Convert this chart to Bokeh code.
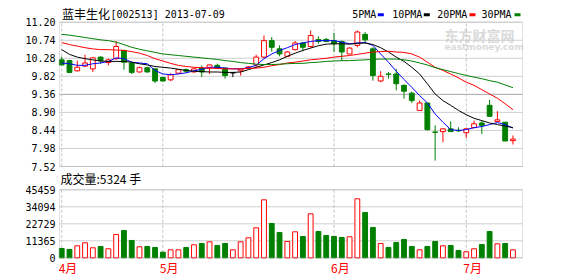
from bokeh.plotting import figure
from bokeh.layouts import column
from bokeh.models import (Range1d, FixedTicker, NumeralTickFormatter, Label,
                          BoxAnnotation, ColumnDataSource)
from bokeh.embed import file_html
from bokeh.resources import INLINE

# ---------------- data ----------------
title_name = "蓝丰生化"
title_code = "[002513] 2013-07-09"
volume_title = "成交量:5324 手"
legend_names = ["5PMA", "10PMA", "20PMA", "30PMA"]
legend_colors = ["#0000FF", "#000000", "#FF0000", "#008000"]
month_labels = ["4月", "5月", "6月", "7月"]
month_starts = [0, 13, 35, 52]
price_ticks = [7.52, 7.98, 8.44, 8.90, 9.36, 9.82, 10.28, 10.74, 11.20]
volume_ticks = [0, 11365, 22729, 34094, 45459]

opens = [10.24, 10.22, 9.96, 10.08, 10.01, 10.31, 10.17, 10.27, 10.48, 10.16,
         9.93, 10.04, 10.01, 9.79, 9.73, 9.90, 9.99, 9.93, 10.03, 10.03,
         10.10, 10.03, 9.91, 9.96, 10.03, 10.11, 10.31, 10.73, 10.52, 10.33,
         10.50, 10.67, 10.58, 10.76, 10.76, 10.73, 10.71, 10.39, 10.61, 10.89,
         10.52, 9.70, 9.88, 9.88, 9.59, 9.39, 8.95, 9.14, 8.40, 8.41,
         8.48, 8.44, 8.38, 8.51, 8.63, 9.08, 8.67, 8.65, 8.18]
closes = [10.11, 9.92, 10.05, 10.16, 10.29, 10.22, 10.24, 10.58, 10.18, 9.92,
          10.04, 9.93, 9.70, 9.70, 9.86, 9.99, 9.95, 10.01, 9.93, 10.11,
          10.03, 9.84, 9.91, 10.01, 10.06, 10.31, 10.73, 10.56, 10.39, 10.44,
          10.67, 10.56, 10.86, 10.71, 10.71, 10.65, 10.44, 10.54, 10.95, 10.75,
          9.84, 9.82, 9.87, 9.63, 9.44, 9.20, 9.14, 8.46, 8.39, 8.48,
          8.41, 8.43, 8.48, 8.61, 8.57, 8.80, 8.71, 8.17, 8.22]
highs = [10.32, 10.24, 10.22, 10.37, 10.31, 10.33, 10.27, 10.72, 10.50, 10.17,
         10.07, 10.05, 10.02, 9.80, 9.90, 9.99, 10.02, 10.03, 10.10, 10.12,
         10.14, 10.04, 9.93, 10.03, 10.08, 10.37, 10.86, 10.82, 10.61, 10.46,
         10.72, 10.69, 10.99, 10.84, 10.80, 10.93, 10.73, 10.56, 10.99, 10.95,
         10.56, 9.95, 9.93, 10.01, 9.61, 9.43, 9.20, 9.14, 8.57, 8.50,
         8.67, 8.52, 8.51, 8.69, 8.69, 9.22, 8.93, 8.65, 8.31]
lows = [10.10, 9.90, 9.94, 10.06, 9.93, 10.14, 10.10, 10.24, 9.99, 9.88,
        9.92, 9.92, 9.65, 9.69, 9.70, 9.89, 9.91, 9.92, 9.80, 9.88,
        10.02, 9.76, 9.80, 9.84, 10.01, 10.05, 10.28, 10.45, 10.33, 10.31,
        10.48, 10.46, 10.55, 10.65, 10.69, 10.44, 10.22, 10.38, 10.56, 10.67,
        9.71, 9.67, 9.76, 9.46, 9.25, 9.14, 8.95, 8.44, 7.67, 8.14,
        8.40, 8.40, 8.25, 8.51, 8.35, 8.78, 8.67, 8.17, 8.08]
volumes = [6240, 5570, 8020, 10030, 6690, 7580, 6020, 15600, 18270, 11590,
           7350, 7580, 6910, 3790, 5350, 5350, 6910, 8690, 9580, 10690,
           8240, 9580, 5350, 10690, 13370, 20050, 38770, 22950, 16930, 10920,
           17380, 14260, 29410, 17600, 14930, 14260, 13590, 14040, 39440, 30300,
           20280, 9580, 6910, 10250, 12250, 7580, 5350, 7580, 10920, 8020,
           8240, 4900, 4010, 6020, 8910, 17600, 9360, 9580, 5324]
ma5 = [10.16, 10.14, 10.10, 10.10, 10.14, 10.16, 10.20, 10.29, 10.27, 10.18,
       10.16, 10.14, 9.97, 9.88, 9.86, 9.88, 9.91, 9.96, 10.00, 10.05,
       10.05, 10.03, 10.01, 10.01, 10.04, 10.10, 10.27, 10.39, 10.48, 10.55,
       10.63, 10.67, 10.71, 10.73, 10.73, 10.73, 10.69, 10.65, 10.67, 10.68,
       10.61, 10.39, 10.18, 9.95, 9.74, 9.54, 9.33, 9.14, 8.86, 8.65,
       8.46, 8.44, 8.46, 8.51, 8.54, 8.59, 8.64, 8.59, 8.50]
ma10 = [10.50, 10.38, 10.31, 10.27, 10.24, 10.21, 10.20, 10.20, 10.20, 10.18,
        10.14, 10.11, 10.07, 10.05, 10.03, 10.00, 9.97, 9.95, 9.94, 9.93,
        9.93, 9.92, 9.92, 9.93, 9.99, 10.05, 10.11, 10.17, 10.24, 10.33,
        10.41, 10.48, 10.54, 10.60, 10.64, 10.65, 10.65, 10.64, 10.66, 10.67,
        10.63, 10.55, 10.44, 10.31, 10.20, 10.05, 9.88, 9.63, 9.37, 9.20,
        9.08, 8.95, 8.84, 8.75, 8.69, 8.63, 8.59, 8.55, 8.51]
ma20 = [10.68, 10.63, 10.59, 10.55, 10.52, 10.50, 10.50, 10.49, 10.48, 10.45,
        10.41, 10.35, 10.27, 10.21, 10.15, 10.10, 10.07, 10.05, 10.04, 10.03,
        10.02, 10.01, 10.01, 10.01, 10.02, 10.03, 10.05, 10.09, 10.12, 10.16,
        10.18, 10.21, 10.24, 10.26, 10.28, 10.31, 10.33, 10.35, 10.38, 10.41,
        10.44, 10.45, 10.46, 10.44, 10.43, 10.39, 10.31, 10.18, 10.05, 9.97,
        9.88, 9.78, 9.67, 9.59, 9.48, 9.37, 9.26, 9.12, 8.97]
ma30 = [10.89, 10.87, 10.84, 10.81, 10.78, 10.75, 10.73, 10.69, 10.63, 10.56,
        10.51, 10.47, 10.43, 10.39, 10.37, 10.35, 10.33, 10.31, 10.29, 10.27,
        10.25, 10.22, 10.20, 10.17, 10.15, 10.13, 10.12, 10.12, 10.13, 10.14,
        10.15, 10.15, 10.17, 10.18, 10.20, 10.21, 10.22, 10.22, 10.23, 10.24,
        10.25, 10.26, 10.26, 10.26, 10.24, 10.21, 10.16, 10.11, 10.04, 9.99,
        9.94, 9.89, 9.84, 9.80, 9.76, 9.71, 9.67, 9.60, 9.53]

# ---------------- layout / style constants (pixels) ----------------
RED = "#FF0000"
GREEN = "#008000"
GRID = "#CFCFCF"
MID_GRID = "#A8A8A8"
DASH_GRID = "#C4C4C4"
FRAME = "#A0A0A0"
MONO = "DejaVu Sans Mono"
CJK = "Noto Sans CJK SC"

W = 578
P_H, V_H = 171, 105            # canvas heights of the two panels
FRAME_L, FRAME_R = 58, 523     # bokeh frame (1px wider than the drawn box)
BOX_L, BOX_R = 59, 522         # drawn box
BAR0_PX, BAR_STEP = 61.2, 7.78
P_TOP_PX, P_BOT_PX = 21.7, 166.0
V_TOP_PX, V_BOT_PX = 189.3 - P_H, 257.3 - P_H


def xd(px):
    return (px - BAR0_PX) / BAR_STEP


SP = (price_ticks[-1] - price_ticks[0]) / (P_BOT_PX - P_TOP_PX)
SV = (volume_ticks[-1] - volume_ticks[0]) / (V_BOT_PX - V_TOP_PX)


def yp(py):
    return price_ticks[-1] - (py - P_TOP_PX) * SP


def yv(py):
    return volume_ticks[-1] - (py - V_TOP_PX) * SV


idx = list(range(len(closes)))
cndl_color, cndl_fill, vol_color, vol_fill = [], [], [], []
for o, c in zip(opens, closes):
    if c > o:
        cndl_color.append(RED); cndl_fill.append("#FFFFFF")
    elif c < o:
        cndl_color.append(GREEN); cndl_fill.append(GREEN)
    else:
        cndl_color.append("#000000"); cndl_fill.append("#000000")
    if c >= o:
        vol_color.append(RED); vol_fill.append("#FFFFFF")
    else:
        vol_color.append(GREEN); vol_fill.append(GREEN)

src = ColumnDataSource(dict(
    x=idx, open=opens, close=closes, high=highs, low=lows,
    top=[max(o, c) for o, c in zip(opens, closes)],
    bottom=[min(o, c) for o, c in zip(opens, closes)],
    color=cndl_color, fill=cndl_fill,
    vol=volumes, vcolor=vol_color, vfill=vol_fill,
    ma5=ma5, ma10=ma10, ma20=ma20, ma30=ma30,
))

XR = (xd(FRAME_L), xd(FRAME_R))
X0, X1 = xd(BOX_L), xd(BOX_R)


def style_axis(ax, ticks, fmt):
    ax.ticker = FixedTicker(ticks=ticks)
    ax.formatter = NumeralTickFormatter(format=fmt)
    ax.axis_line_color = None
    ax.major_tick_line_color = None
    ax.minor_tick_line_color = None
    ax.major_tick_in = 0
    ax.major_tick_out = 0
    ax.major_label_standoff = 3
    ax.major_label_text_font = MONO
    ax.major_label_text_font_size = "10px"
    ax.major_label_text_color = "#000000"


def base_fig(height, yr):
    f = figure(width=W, height=height, x_range=Range1d(*XR), y_range=Range1d(*yr),
               output_backend="svg", toolbar_location=None, x_axis_location=None,
               min_border_left=FRAME_L, min_border_right=W - FRAME_R,
               min_border_top=0, min_border_bottom=0)
    f.background_fill_color = "#FFFFFF"
    f.border_fill_color = "#FFFFFF"
    f.outline_line_color = None
    f.xgrid.visible = False
    f.ygrid.visible = False
    return f


def add_text(f, x, y, text, font, size, color="#000000", bold=False, **kw):
    f.add_layout(Label(x=x, y=y, text=text, text_font=font, text_font_size=size,
                       text_color=color, text_baseline="middle",
                       text_font_style="bold" if bold else "normal", **kw))


# ---------------- price panel ----------------
p = base_fig(P_H, (yp(P_H), yp(0)))
style_axis(p.yaxis[0], price_ticks, "0.00")

# watermark
add_text(p, xd(444), yp(34), "东方财富网", CJK, "14px", "#DADADA", bold=True,
         level="underlay")
add_text(p, xd(444), yp(46), "eastmoney.com", "DejaVu Sans", "9px", "#DADADA",
         bold=True, level="underlay")

# grid
gcol = [MID_GRID if t == price_ticks[len(price_ticks) // 2] else GRID for t in price_ticks]
p.segment(x0=[X0] * len(price_ticks), x1=[X1] * len(price_ticks),
          y0=price_ticks, y1=price_ticks, color=gcol, line_width=1)
p.segment(x0=month_starts, x1=month_starts, y0=[price_ticks[0]] * 4,
          y1=[price_ticks[-1]] * 4, color=DASH_GRID, line_dash="3 2", line_width=1)
p.add_layout(BoxAnnotation(left=X0, right=X1, bottom=price_ticks[0], top=price_ticks[-1],
                           fill_color=None, fill_alpha=0, line_color=FRAME, line_width=1))

p.segment(x0="x", y0="low", x1="x", y1="high", color="color", line_width=1, source=src)
p.vbar(x="x", top="top", bottom="bottom", width=0.62, fill_color="fill",
       line_color="color", line_width=1, source=src)
for col, clr in zip(["ma5", "ma10", "ma20", "ma30"], legend_colors):
    p.line(x="x", y=col, color=clr, line_width=1, source=src)

# title
add_text(p, xd(61.5), yp(13), title_name, CJK, "12px")
add_text(p, xd(110), yp(13.5), title_code, MONO, "10px")

# legend
leg_text_px = [351.7, 391.7, 436.7, 481.0]
leg_mark_px = [377.3, 423.3, 469.0, 514.0]
for name, clr, tx, mx in zip(legend_names, legend_colors, leg_text_px, leg_mark_px):
    add_text(p, xd(tx), yp(14), name, MONO, "10px")
    p.add_layout(BoxAnnotation(left=xd(mx), right=xd(mx + 6), top=yp(12.7),
                               bottom=yp(15.7), fill_color=clr, fill_alpha=1.0,
                               line_color=None))

# ---------------- volume panel ----------------
v = base_fig(V_H, (yv(V_H), yv(0)))
style_axis(v.yaxis[0], volume_ticks, "0")
v.segment(x0=[X0] * len(volume_ticks), x1=[X1] * len(volume_ticks),
          y0=volume_ticks, y1=volume_ticks, color=GRID, line_width=1)
v.segment(x0=month_starts, x1=month_starts, y0=[volume_ticks[0]] * 4,
          y1=[volume_ticks[-1]] * 4, color=DASH_GRID, line_dash="3 2", line_width=1)
v.add_layout(BoxAnnotation(left=X0, right=X1, bottom=volume_ticks[0], top=volume_ticks[-1],
                           fill_color=None, fill_alpha=0, line_color=FRAME, line_width=1))
v.vbar(x="x", top="vol", bottom=0, width=0.62, fill_color="vfill",
       line_color="vcolor", line_width=1, source=src)

add_text(v, xd(60), yv(178 - P_H), volume_title, CJK, "12px")
for lab, ms in zip(month_labels, month_starts):
    add_text(v, ms, yv(267 - P_H), lab, CJK, "12px", RED, x_offset=-3)

layout = column(p, v, spacing=0)
open("out.html", "w").write(file_html(layout, INLINE))
